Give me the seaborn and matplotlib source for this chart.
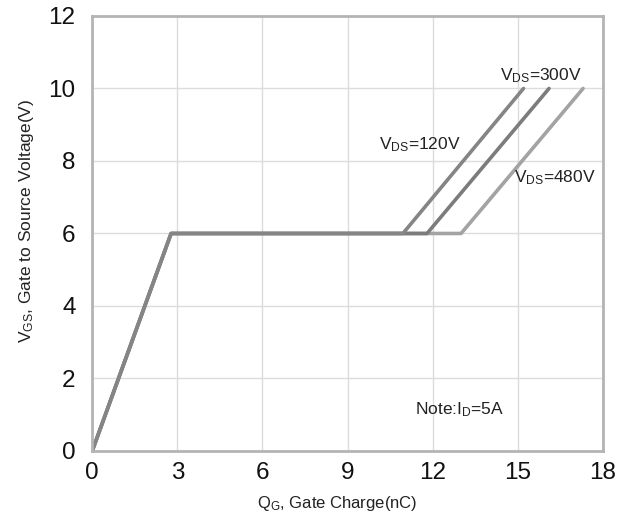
import pandas as pd
import seaborn as sns
import matplotlib.pyplot as plt

# Gate charge curves (nC, V)
SERIES = ['120V', '300V', '480V']
QG_START = [0.0, 2.78]          # common turn-on ramp
VGS_START = [0.0, 6.0]
QG_KNEE = [10.95, 11.8, 13.0]   # end of the Miller plateau
QG_TOP = [15.2, 16.1, 17.3]     # where each curve reaches 10 V
VGS_PLATEAU = 6.0
VGS_TOP = 10.0

LINE_COLORS = ['#858585', '#7c7c7c', '#a3a3a3']

X_TICKS = [0, 3, 6, 9, 12, 15, 18]
Y_TICKS = [0, 2, 4, 6, 8, 10, 12]

rows = []
for name, knee, top in zip(SERIES, QG_KNEE, QG_TOP):
    qs = QG_START + [knee, top]
    vs = VGS_START + [VGS_PLATEAU, VGS_TOP]
    for i, (q, v) in enumerate(zip(qs, vs)):
        rows.append({'series': name, 'order': i, 'Qg': q, 'Vgs': v})
df = pd.DataFrame(rows)

sns.set_style('white')
plt.rcParams['font.family'] = ['Liberation Sans', 'DejaVu Sans']

fig = plt.figure(figsize=(6.36, 5.16), dpi=100)
ax = fig.add_axes([0.145, 0.126, 0.803, 0.843])

# draw the lightest curve first so the darker ones sit on top
for name, color in reversed(list(zip(SERIES, LINE_COLORS))):
    sns.lineplot(data=df[df['series'] == name], x='Qg', y='Vgs', sort=False,
                 color=color, linewidth=2.6, ax=ax, legend=False)

ax.set_xlim(0, 18)
ax.set_ylim(0, 12)
ax.set_xticks(X_TICKS)
ax.set_yticks(Y_TICKS)
ax.tick_params(axis='both', labelsize=17.5, length=0, colors='#111111')
ax.tick_params(axis='x', pad=8)
ax.tick_params(axis='y', pad=12)
ax.grid(True, color='#dcdcdc', linewidth=1.0)
for side in ax.spines.values():
    side.set_color('#b4b4b4')
    side.set_linewidth(2.0)

ax.set_xlabel(r'Q$\mathregular{_G}$, Gate Charge(nC)', fontsize=12, color='#222222')
ax.set_ylabel(r'V$\mathregular{_{GS}}$, Gate to Source Voltage(V)', fontsize=12.5, color='#222222')
ax.xaxis.set_label_coords(0.48, -0.1)
ax.yaxis.set_label_coords(-0.11, 0.53)

# curve labels
txt = dict(fontsize=12.5, color='#222222', ha='center', va='center')
ax.text(15.8, 10.35, r'V$\mathregular{_{DS}}$=300V', **txt)
ax.text(11.55, 8.45, r'V$\mathregular{_{DS}}$=120V', **txt)
ax.text(16.3, 7.55, r'V$\mathregular{_{DS}}$=480V', **txt)
ax.text(12.95, 1.13, r'Note:I$\mathregular{_D}$=5A', **txt)

plt.savefig('out.png', dpi=100)
